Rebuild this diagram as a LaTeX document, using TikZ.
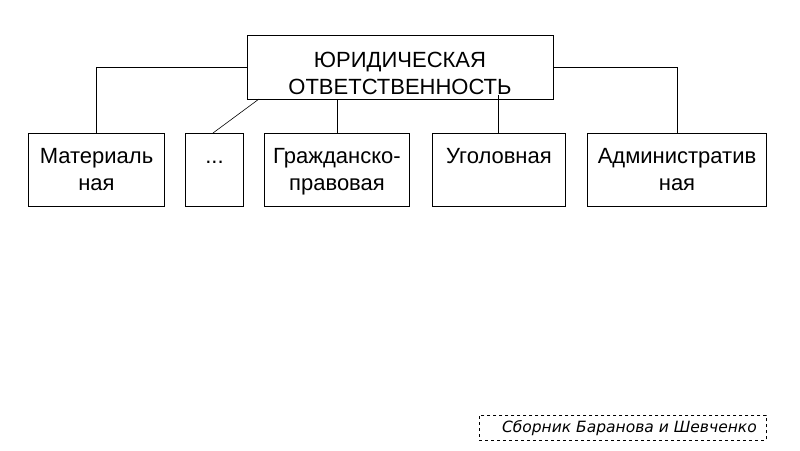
\documentclass[tikz,border=0pt]{standalone}
\usepackage{fontspec}
\setmainfont{Liberation Sans}
\newfontfamily\footfont{DejaVu Sans}
\begin{document}
\begin{tikzpicture}[x=1pt,y=-1pt,
  box/.style={draw=black,line width=1pt,fill=white,anchor=north west,inner sep=0pt},
  lbl/.style={font=\fontsize{22}{27}\selectfont,align=center,anchor=base,inner sep=0pt},
  conn/.style={draw=black,line width=1pt},
  thinconn/.style={draw=black,line width=0.6pt}]
\useasboundingbox[fill=white] (0,0) rectangle (800,450);
% top box
\node[box,minimum width=306pt,minimum height=64pt] (top) at (247,35) {};
\node[lbl] (toptxt) at (400,94) {ЮРИДИЧЕСКАЯ\\ОТВЕТСТВЕННОСТЬ};
% lower boxes
\node[box,minimum width=136pt,minimum height=73pt] (mat) at (28,133) {};
\node[box,minimum width=58pt,minimum height=73pt] (dots) at (185,133) {};
\node[box,minimum width=145pt,minimum height=73pt] (civ) at (264,133) {};
\node[box,minimum width=133pt,minimum height=73pt] (crim) at (432,133) {};
\node[box,minimum width=179pt,minimum height=73pt] (adm) at (587,133) {};
\node[lbl] (mattxt) at (mat.north |- 0,190) {Материаль\\ная};
\node[lbl] (dotstxt) at (dots.north |- 0,163) {...};
\node[lbl] (civtxt) at (civ.north |- 0,190) {Гражданско-\\правовая};
\node[lbl] (crimtxt) at (crim.north |- 0,163) {Уголовная};
\node[lbl] (admtxt) at (adm.north |- 0,190) {Административ\\ная};
% connectors
\coordinate (tl) at (top.west |- 0,67);
\coordinate (tr) at (top.east |- 0,67);
\coordinate (c1) at (96,67);
\coordinate (c5) at (677,67);
\draw[conn] (tl) -- (c1) -- (c1 |- mat.north);
\draw[conn] (tr) -- (c5) -- (c5 |- adm.north);
\coordinate (d1) at (259,99);
\coordinate (d2) at (213,133);
\draw[thinconn] (d1) -- (d2);
\coordinate (v3) at (337,99);
\draw[conn] (v3) -- (v3 |- civ.north);
\coordinate (v4) at (498,95);
\draw[conn] (v4) -- (v4 |- crim.north);
% footer
\node[draw=black,dashed,line width=0.8pt,anchor=north west,minimum width=287pt,minimum height=25pt,inner sep=0pt] (foot) at (479,415) {};
\node[font=\footfont\fontsize{15.5}{18}\selectfont\slshape,inner sep=0pt] (foottxt) at ([xshift=6.5pt]foot.center) {Сборник Баранова и Шевченко};
\end{tikzpicture}
\end{document}
